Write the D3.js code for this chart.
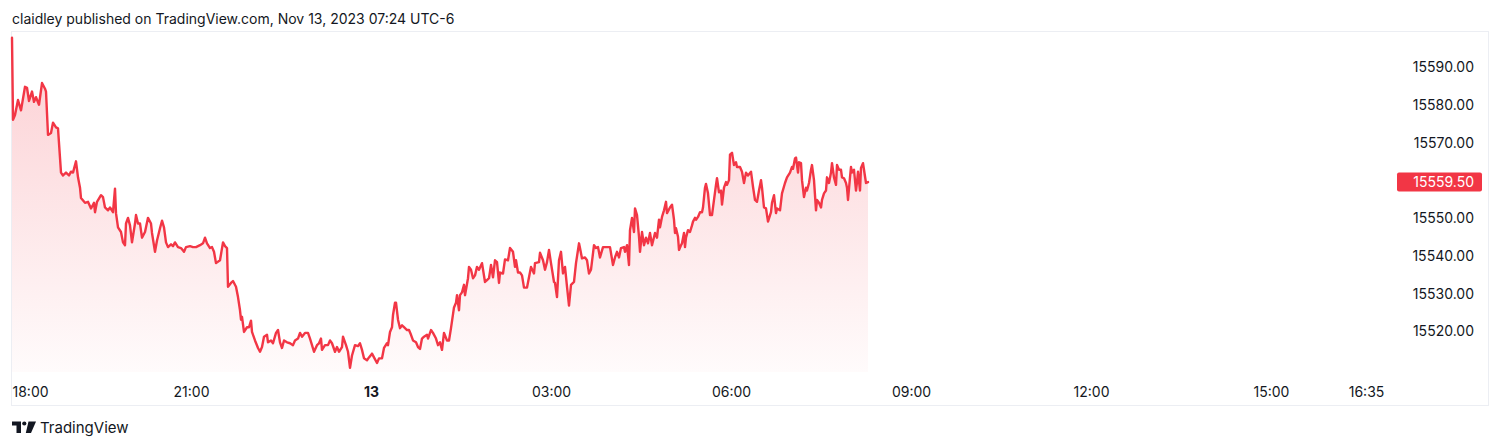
<!DOCTYPE html>
<html>
<head>
<meta charset="utf-8">
<script src="https://cdn.jsdelivr.net/npm/d3@7"></script>
<style>
  html, body { margin: 0; padding: 0; background: #ffffff; }
  svg { display: block; font-family: Inter, "Noto Sans", Roboto, sans-serif; }
</style>
</head>
<body>
<svg id="chart" width="1500" height="448"></svg>
<script>
// ---------- DATA ----------
const title = "claidley published on TradingView.com, Nov 13, 2023 07:24 UTC-6";
const sessionStart = "2023-11-12 18:00";
// minutes after session start (18:00) for each traced point
const minuteOffsets = [
  1,2,4,7,10,14,16,18,21,23,25,28,31,34,35,37,40,42,45,47,50,52,55,58,60,62,65,67,69,70,
  74,77,80,83,84,86,90,92,94,97,99,102,104,105,107,110,112,114,115,117,119,121,124,125,127,129,131,134,137,140,
  141,144,146,149,151,153,155,157,160,162,164,167,170,173,175,179,182,185,189,192,194,196,199,201,203,205,209,212,214,216,
  217,220,222,225,227,229,230,231,233,236,238,240,241,244,247,249,251,253,256,257,260,262,265,267,269,271,273,276,279,282,
  284,287,289,291,294,297,299,301,303,306,308,310,311,314,317,319,321,324,326,328,331,332,335,337,339,341,344,347,349,351,
  353,356,358,361,363,366,368,371,373,376,377,379,381,382,384,385,387,389,391,393,396,398,400,402,405,407,409,411,413,416,
  417,420,422,425,427,429,431,433,436,438,440,443,445,446,448,449,451,453,454,457,458,460,462,464,466,468,471,474,476,478,
  480,482,484,486,488,489,492,494,497,499,502,504,505,507,509,511,513,516,518,520,523,524,528,529,532,534,536,538,540,543,
  544,546,548,550,552,554,556,558,560,563,565,568,569,571,574,576,578,580,583,585,587,589,592,594,597,599,602,604,606,608,
  610,613,614,616,618,619,621,623,624,626,628,629,631,633,635,637,639,641,644,646,648,649,651,653,655,656,659,661,663,664,
  665,667,668,670,671,673,674,675,677,679,681,682,684,685,687,689,691,692,694,695,697,699,701,703,705,706,708,710,711,713,
  715,716,718,719,721,723,725,726,729,731,733,735,737,740,742,744,746,748,750,751,753,755,757,760,761,763,765,766,769,771,
  774,776,779,781,782,784,785,787,788,790,791,793,795,796,798,800,801,803,805,806,808,810,811,813,815,816,818,820,821,823,
  825,826,828,830,831,833,835,836,837,839,840,841,843,845,846,847,849,850,852,853,855,857
];
const prices = [
  15597.75,15576,15577.25,15581.25,15578.5,15584.75,15584.5,15581,15583.5,15580.75,15582,15580,15585.75,15584.25,15583.5,15572,15572.5,15575.25,15574,15573.75,15562,15561.25,15562,15561.25,15562.25,15562,15565,15560.75,15558,15555.25,
  15554,15554.25,15552.5,15554,15551.5,15554.25,15556,15555.5,15552.75,15552,15552.75,15551.5,15557.75,15551.25,15547.5,15546.25,15543.5,15542.75,15548.5,15550,15548,15543.5,15548.5,15550.75,15548.5,15548.5,15544.75,15546.25,15550,15548.5,
  15546,15541,15544,15547.25,15549.25,15547.5,15543.5,15542.25,15543,15542.5,15543.5,15542.25,15542,15541,15542.25,15542.5,15542.25,15542.25,15542.75,15543.25,15544.75,15543.25,15542,15542.25,15541,15538,15538.75,15543.5,15542.5,15542,
  15531.75,15532.75,15533.25,15531.75,15529,15525.5,15523,15523.75,15519.75,15521,15521,15522.75,15519.75,15517.5,15515.5,15514.5,15515.75,15518.5,15519,15517,15517.5,15516.75,15519.5,15520.25,15517,15515.5,15517.5,15517,15516.75,15516.25,
  15517.5,15518,15519.5,15518.5,15519.5,15519.5,15518,15516.25,15514.5,15516.25,15516.75,15518,15515,15516.25,15516.25,15517.5,15516.75,15514.5,15515.75,15514.5,15515.75,15518.5,15516.25,15514.5,15510.25,15513.5,15516.25,15516,15516.75,15515,
  15512.75,15512.25,15513,15514,15513,15511.5,15512.75,15512.75,15515.5,15516.75,15516.25,15519.75,15521,15524.25,15527.5,15527.5,15523,15520.75,15521.5,15521,15520.25,15520.25,15519,15517.5,15517,15515.75,15515.25,15518,15518.5,15519,
  15518,15520.25,15519.5,15518,15516.25,15517,15515,15519.5,15517.5,15517.5,15520.75,15526.25,15527.5,15529.5,15525.5,15529.5,15530.25,15532.25,15529.5,15534,15537,15536.25,15534,15534.75,15537,15536.25,15538,15533,15533.5,15534,
  15537.5,15534.25,15538.75,15538.25,15532.75,15535.5,15535.25,15539,15538.75,15542,15541,15537,15538.75,15535.5,15535.5,15534.75,15531.5,15531.5,15534.25,15537,15535.25,15538,15538.25,15540.75,15538.75,15536.25,15538.25,15541.5,15538,15533,
  15532.75,15529,15538.75,15541,15535.25,15537,15531.75,15526.75,15532.25,15533,15538,15543.25,15542,15539.25,15539.5,15538.75,15535.25,15536.25,15542.75,15542,15542.25,15539.5,15542.25,15542.25,15542.25,15542.25,15537.5,15539.5,15541,15539.5,
  15542,15542.25,15541,15542.75,15537.5,15546.75,15550,15546.25,15552.5,15550.75,15545,15541,15546.25,15542.75,15544.75,15543.25,15546,15542.75,15546,15544.75,15549.5,15547.5,15550.25,15552,15554.25,15551.25,15552.75,15553.5,15549.5,15546,
  15547.25,15545,15541.5,15542.75,15543.25,15546,15542.25,15544.75,15546.75,15546.25,15548,15549,15550,15549.5,15550.25,15551.5,15551.5,15552.75,15558,15559,15556.5,15550.75,15550.75,15554.75,15558.75,15560.5,15556.75,15557.25,15553.5,15558,
  15559.5,15558.75,15560,15566.75,15567.25,15564,15564.75,15563.5,15563.5,15562.25,15559.25,15562,15561.25,15562.25,15558.25,15554.75,15554.25,15557.25,15560,15558,15552.75,15552.5,15549,15551.5,15554,15556,15551.25,15552.5,15552,15556.5,
  15559.25,15560.75,15562,15563.5,15563,15565.75,15566,15562,15564.75,15564.5,15560,15555.5,15558,15557.25,15559.25,15562.75,15564,15560,15552,15554.75,15554,15552.75,15554.75,15556.5,15557.25,15560.75,15559.25,15562,15564.5,15560.75,
  15558.75,15564,15562.75,15562.75,15560.75,15560.5,15559.25,15558,15554.75,15560.75,15563.5,15562,15562.75,15557.25,15559.5,15562.25,15557.25,15563.25,15564.5,15562.75,15559.25,15559.5
];
const priceTicks = [15520, 15530, 15540, 15550, 15570, 15580, 15590];
const timeTickValues = ["2023-11-12 18:00","2023-11-12 21:00","2023-11-13 00:00","2023-11-13 03:00","2023-11-13 06:00","2023-11-13 09:00","2023-11-13 12:00","2023-11-13 15:00","2023-11-13 16:35"];
const timeTickLabels = ["18:00","21:00","13","03:00","06:00","09:00","12:00","15:00","16:35"];
const lastPriceLabel = "15559.50";

// ---------- LAYOUT ----------
const frame = { left: 11, top: 31, right: 1489, bottom: 406 };
const plot = { left: 11, right: 1395, top: 31, bottom: 372 };
const RED = "#F23645";
const TEXT = "#131722";

const parse = d3.timeParse("%Y-%m-%d %H:%M");
const t0 = parse(sessionStart);
const t1 = d3.timeMinute.offset(t0, plot.right - plot.left);

const x = d3.scaleTime().domain([t0, t1]).range([plot.left, plot.right]);
const y = d3.scaleLinear().domain([15509.13, 15599.55]).range([plot.bottom, plot.top]);

const data = minuteOffsets.map((m, i) => ({ t: d3.timeMinute.offset(t0, m), p: prices[i] }));

const svg = d3.select("#chart");

// header
svg.append("text").attr("x", 12).attr("y", 23.5)
  .attr("font-size", 14).attr("fill", TEXT).text(title);

// frame
svg.append("rect")
  .attr("x", frame.left + 0.5).attr("y", frame.top + 0.5)
  .attr("width", frame.right - frame.left - 1).attr("height", frame.bottom - frame.top - 1)
  .attr("fill", "none").attr("stroke", "#eceef3").attr("stroke-width", 1);

// gradient
const defs = svg.append("defs");
const grad = defs.append("linearGradient").attr("id", "areaGrad")
  .attr("gradientUnits", "userSpaceOnUse")
  .attr("x1", 0).attr("x2", 0)
  .attr("y1", y(d3.max(prices))).attr("y2", plot.bottom);
grad.append("stop").attr("offset", "0%").attr("stop-color", RED).attr("stop-opacity", 0.24);
grad.append("stop").attr("offset", "100%").attr("stop-color", RED).attr("stop-opacity", 0.02);

const area = d3.area().x(d => x(d.t)).y0(plot.bottom).y1(d => y(d.p));
const line = d3.line().x(d => x(d.t)).y(d => y(d.p));

svg.append("path").datum(data).attr("d", area).attr("fill", "url(#areaGrad)");
svg.append("path").datum(data).attr("d", line)
  .attr("fill", "none").attr("stroke", RED).attr("stroke-width", 2.4)
  .attr("stroke-linejoin", "round").attr("stroke-linecap", "round");

// y axis (right)
const yAxis = d3.axisRight(y).tickValues(priceTicks).tickFormat(d3.format(".2f")).tickSize(0).tickPadding(0);
const gy = svg.append("g").attr("transform", `translate(1474,0)`).call(yAxis);
gy.select(".domain").remove();
gy.selectAll("text").attr("text-anchor", "end").attr("font-family", "Inter, 'Noto Sans', sans-serif")
  .attr("font-size", 14).attr("fill", TEXT).attr("dy", "0.35em").attr("x", 0);

// last price label
const lastP = prices[prices.length - 1];
svg.append("rect").attr("x", 1397).attr("y", y(lastP) - 9.5).attr("width", 85).attr("height", 19)
  .attr("rx", 2).attr("fill", RED);
svg.append("text").attr("x", 1474).attr("y", y(lastP)).attr("dy", "0.35em")
  .attr("text-anchor", "end").attr("font-size", 14).attr("fill", "#ffffff").text(lastPriceLabel);

// x axis
const tickDates = timeTickValues.map(parse);
const xAxis = d3.axisBottom(x).tickValues(tickDates)
  .tickFormat((d, i) => timeTickLabels[i]).tickSize(0).tickPadding(0);
const gx = svg.append("g").attr("transform", `translate(0,392)`).call(xAxis);
gx.select(".domain").remove();
gx.selectAll("text").attr("font-family", "Inter, 'Noto Sans', sans-serif")
  .attr("font-size", 14).attr("fill", TEXT).attr("dy", "0.35em").attr("y", 0)
  .attr("font-weight", (d, i) => timeTickLabels[i] === "13" ? 700 : 400)
  .each(function (d, i) {
    if (i === 0) d3.select(this).attr("text-anchor", "start").attr("x", 1);
  });

// TradingView logo
const logo = svg.append("g").attr("fill", TEXT);
logo.append("path").attr("d", "M12,421.5 H21 V433 H16.5 V425.5 H12 Z");
logo.append("circle").attr("cx", 24.3).attr("cy", 423.5).attr("r", 2.1);
logo.append("path").attr("d", "M28.5,421.5 H36 L31,433 H25.8 Z");
svg.append("text").attr("x", 40).attr("y", 433).attr("font-size", 15).attr("fill", TEXT).text("TradingView");
</script>
</body>
</html>
